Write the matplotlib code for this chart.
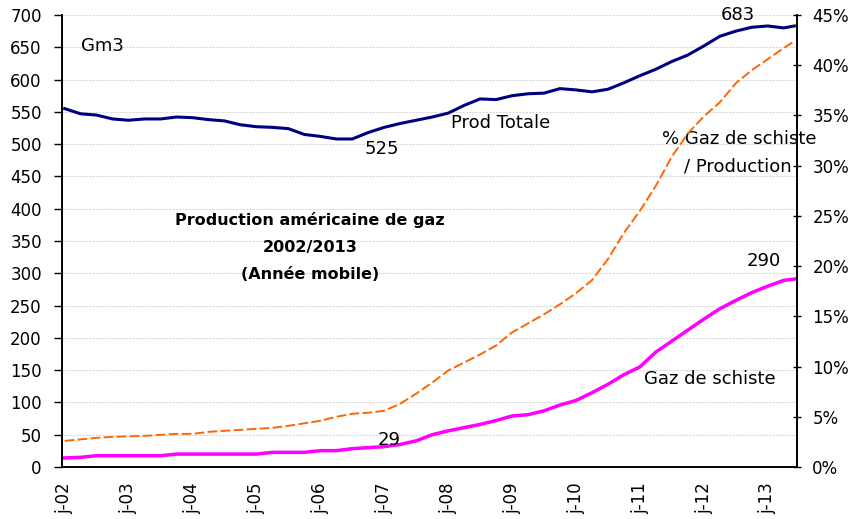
import numpy as np
import matplotlib
matplotlib.use('Agg')
import matplotlib.pyplot as plt
from matplotlib.ticker import FuncFormatter

plt.rcParams['font.family'] = ['DejaVu Sans']

# months counted from Jan 2002 (0) to Jun 2013 (137), read every quarter
months = [0, 3, 6, 9, 12, 15, 18, 21, 24, 27, 30, 33, 36, 39, 42, 45, 48, 51, 54, 57,
          60, 63, 66, 69, 72, 75, 78, 81, 84, 87, 90, 93, 96, 99, 102, 105, 108, 111,
          114, 117, 120, 123, 126, 129, 132, 135, 137]

# total US gas production, Gm3 (rolling year)
prod_totale = [555, 547, 545, 539, 537, 539, 539, 542, 541, 538, 536, 530, 527, 526, 524,
               515, 512, 508, 508, 518, 526, 532, 537, 542, 548, 560, 570, 569, 575, 578,
               579, 586, 584, 581, 585, 595, 606, 616, 628, 638, 652, 667, 675, 681, 683,
               680, 683]

# shale gas production, Gm3
gaz_schiste = [14, 15, 17.5, 17.5, 17.5, 17.5, 17.5, 20, 20, 20, 20, 20, 20, 22.7, 22.7,
               22.7, 25.3, 25.3, 28.4, 30, 31.5, 35, 40.5, 50, 56, 61, 66, 72, 79, 81,
               87, 96, 103, 115, 128, 143, 155, 178, 195, 212, 229, 245, 258, 270, 280,
               289, 291]

# shale share of production, %
part_schiste = [2.6, 2.75, 2.9, 3.0, 3.05, 3.1, 3.2, 3.3, 3.3, 3.5, 3.6, 3.7, 3.8, 3.9,
                4.1, 4.35, 4.6, 5.0, 5.3, 5.4, 5.6, 6.3, 7.3, 8.4, 9.6, 10.4, 11.2, 12.1,
                13.4, 14.3, 15.2, 16.2, 17.3, 18.6, 20.7, 23.3, 25.5, 28.0, 30.9, 33.2,
                34.9, 36.3, 38.2, 39.5, 40.6, 41.7, 42.4]

tick_months = list(range(0, 138, 12))
tick_labels = ['j-%02d' % (2 + i) for i in range(len(tick_months))]

title_lines = ['Production américaine de gaz', '2002/2013', '(Année mobile)']

fs = 12     # tick labels
fa = 13     # annotations
fig = plt.figure(figsize=(8.56, 5.19), dpi=100)
ax = fig.add_axes([62/856, 52/519, 735/856, 452/519])
ax2 = ax.twinx()

ax.plot(months, prod_totale, color='#000080', lw=2.2, solid_joinstyle='round')
ax.plot(months, gaz_schiste, color='#ff00ff', lw=2.5, solid_joinstyle='round')
ax2.plot(months, part_schiste, color='#ff6600', lw=1.4, dashes=(5, 1.7))

ax.set_xlim(-0.5, 137.5)
ax.set_ylim(0, 700)
ax.set_yticks(range(0, 701, 50))
ax2.set_ylim(0, 45)
ax2.set_yticks(range(0, 46, 5))
ax2.yaxis.set_major_formatter(FuncFormatter(lambda v, p: '%d%%' % v))

ax.set_xticks(tick_months)
ax.set_xticklabels(tick_labels, rotation=90)
ax.tick_params(axis='x', length=0, pad=11, labelsize=fs)
ax.tick_params(axis='y', direction='out', length=6, width=1, pad=8.5, labelsize=fs)
ax2.tick_params(axis='y', direction='inout', length=6, width=1, pad=8, labelsize=fs)

ax.grid(axis='y', color='#d9d9d9', lw=0.8, ls=(0, (2, 1)))
ax.set_axisbelow(True)
for a in (ax, ax2):
    a.spines['top'].set_visible(False)
    for s in ('left', 'right', 'bottom'):
        a.spines[s].set_linewidth(1.2)

# annotations
ax.text(3, 652, 'Gm3', fontsize=fa, ha='left', va='center')
ax.text(59.6, 492, '525', fontsize=fa, ha='center', va='center')
ax.text(81.9, 533, 'Prod Totale', fontsize=fa, ha='center', va='center')
ax.text(126.4, 700, '683', fontsize=fa, ha='center', va='center')
ax.text(126.6, 507.5, '% Gaz de schiste', fontsize=fa, ha='center', va='center')
ax.text(126.4, 466, '/ Production', fontsize=fa, ha='center', va='center')
ax.text(121.2, 136, 'Gaz de schiste', fontsize=fa, ha='center', va='center')
ax.text(131.3, 319, '290', fontsize=fa, ha='center', va='center')
ax.text(61, 42, '29', fontsize=fa, ha='center', va='center')
for line, yv in zip(title_lines, [382.5, 340.2, 297.4]):
    ax.text(46.1, yv, line, fontsize=11.5, fontweight='bold', ha='center', va='center')

fig.savefig('out.png', dpi=100)
